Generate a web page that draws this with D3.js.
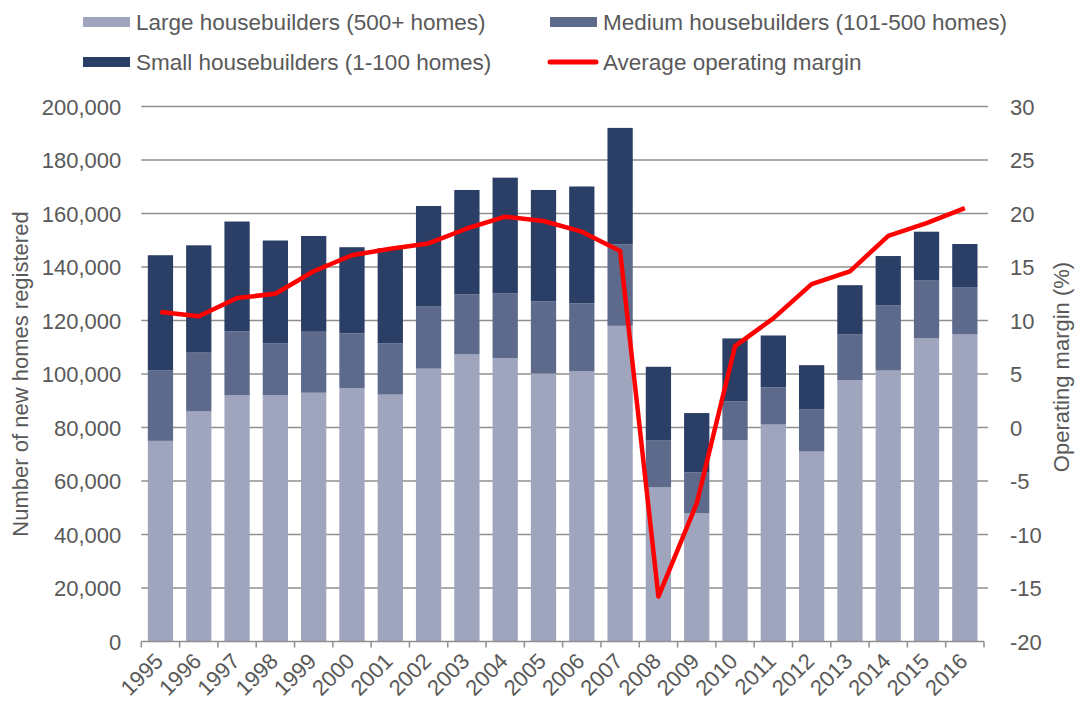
<!DOCTYPE html>
<html><head><meta charset="utf-8">
<script src="https://cdn.jsdelivr.net/npm/d3@7"></script>
<style>
body{margin:0;background:#fff;}
text{font-family:"Liberation Sans",Arial,sans-serif;fill:#595959;}
</style></head><body>
<svg id="c" width="1079" height="704"></svg>
<script>
const years = ["1995","1996","1997","1998","1999","2000","2001","2002","2003","2004","2005","2006","2007","2008","2009","2010","2011","2012","2013","2014","2015","2016"];
const large = [75000,86000,92000,92000,93000,94700,92300,102000,107300,105900,100200,101000,118000,57600,47900,75200,81100,71000,97700,101300,113300,114800];
const medium = [26300,22200,23900,19400,22800,20500,19100,23200,22500,24200,27000,25400,30500,17500,15300,14600,13900,15700,17200,24400,21800,17700];
const small = [43100,39900,41100,38500,35800,32200,35600,37600,39000,43300,41600,43700,43500,27600,22200,23500,19400,16600,18300,18400,18100,16100];
const margin = [10.8,10.4,12.1,12.5,14.6,16.1,16.7,17.2,18.6,19.7,19.3,18.3,16.5,-15.8,-7.1,7.6,10.2,13.4,14.6,17.9,19.1,20.5];
const leftTicks = [0,20000,40000,60000,80000,100000,120000,140000,160000,180000,200000];
const rightTicks = [-20,-15,-10,-5,0,5,10,15,20,25,30];
const seriesNames = ["Large housebuilders (500+ homes)","Medium housebuilders (101-500 homes)","Small housebuilders (1-100 homes)","Average operating margin"];
const colors = ["#A0A5BE","#5E6A8C","#2B3E65","#FF0000"];

const svg = d3.select("#c");
const L=141.3, R=984, T=106.5, B=641.5;
const x = d3.scaleBand().domain(years).range([L,R]).paddingInner(0.34).paddingOuter(0.17);
const y = d3.scaleLinear().domain([0,200000]).range([B,T]);
const y2 = d3.scaleLinear().domain([-20,30]).range([B,T]);

// gridlines
svg.append("g").selectAll("line").data(leftTicks.slice(1)).join("line")
  .attr("x1",L).attr("x2",R+4).attr("y1",d=>y(d)).attr("y2",d=>y(d))
  .attr("stroke","#8f8f8f").attr("stroke-width",1.5);

// stacked bars
const table = years.map((yr,i)=>({year:yr,large:large[i],medium:medium[i],small:small[i]}));
const stack = d3.stack().keys(["large","medium","small"])(table);
svg.append("g").selectAll("g").data(stack).join("g").attr("fill",(d,i)=>colors[i])
  .selectAll("rect").data(d=>d).join("rect")
  .attr("x",d=>x(d.data.year)).attr("width",x.bandwidth())
  .attr("y",d=>y(d[1])).attr("height",d=>y(d[0])-y(d[1]));

// bottom axis
svg.append("line").attr("x1",L).attr("x2",R).attr("y1",B).attr("y2",B).attr("stroke","#8f8f8f").attr("stroke-width",1.5);
const step = x.step();
svg.append("g").selectAll("line").data(d3.range(years.length+1)).join("line")
  .attr("x1",i=>L+i*step).attr("x2",i=>L+i*step).attr("y1",B).attr("y2",B+6)
  .attr("stroke","#8f8f8f").attr("stroke-width",1.5);
svg.append("g").selectAll("text").data(years).join("text")
  .attr("transform",d=>`translate(${x(d)+x.bandwidth()/2+4},${B+21}) rotate(-45)`)
  .attr("text-anchor","end").attr("font-size",22).text(d=>d);

// left axis
const la = d3.axisLeft(y).tickValues(leftTicks).tickSize(0).tickPadding(20).tickFormat(d3.format(","));
const gl = svg.append("g").attr("transform",`translate(${L},0)`).call(la);
gl.select(".domain").remove();
gl.selectAll("text").attr("font-size",22).attr("font-family","Liberation Sans, Arial, sans-serif").attr("fill","#595959").attr("dy","0.36em");

// right axis
const ra = d3.axisRight(y2).tickValues(rightTicks).tickSize(0).tickPadding(26).tickFormat(d=>d);
const gr = svg.append("g").attr("transform",`translate(${R},0)`).call(ra);
gr.select(".domain").remove();
gr.selectAll("text").attr("font-size",22).attr("font-family","Liberation Sans, Arial, sans-serif").attr("fill","#595959").attr("dy","0.36em");

// line
const line = d3.line().x((d,i)=>x(years[i])+x.bandwidth()/2).y(d=>y2(d));
svg.append("path").datum(margin).attr("d",line).attr("fill","none")
  .attr("stroke",colors[3]).attr("stroke-width",4.5).attr("stroke-linejoin","round");

// axis titles
svg.append("text").attr("transform",`translate(28,374) rotate(-90)`).attr("text-anchor","middle")
  .attr("font-size",22).text("Number of new homes registered");
svg.append("text").attr("transform",`translate(1069,367) rotate(-90)`).attr("text-anchor","middle")
  .attr("font-size",22).text("Operating margin (%)");

// legend
const leg = [
  {i:0,x:83,y:22},{i:1,x:550,y:22},{i:2,x:83,y:62},{i:3,x:550,y:62}
];
const lg = svg.append("g");
leg.forEach(l=>{
  if(l.i<3){
    lg.append("rect").attr("x",l.x).attr("y",l.y-5).attr("width",47).attr("height",10).attr("fill",colors[l.i]);
  } else {
    lg.append("line").attr("x1",l.x).attr("x2",l.x+46).attr("y1",l.y).attr("y2",l.y)
      .attr("stroke",colors[3]).attr("stroke-width",5).attr("stroke-linecap","round");
  }
  lg.append("text").attr("x",l.x+53).attr("y",l.y+8).attr("font-size",22.5).text(seriesNames[l.i]);
});
</script></body></html>
